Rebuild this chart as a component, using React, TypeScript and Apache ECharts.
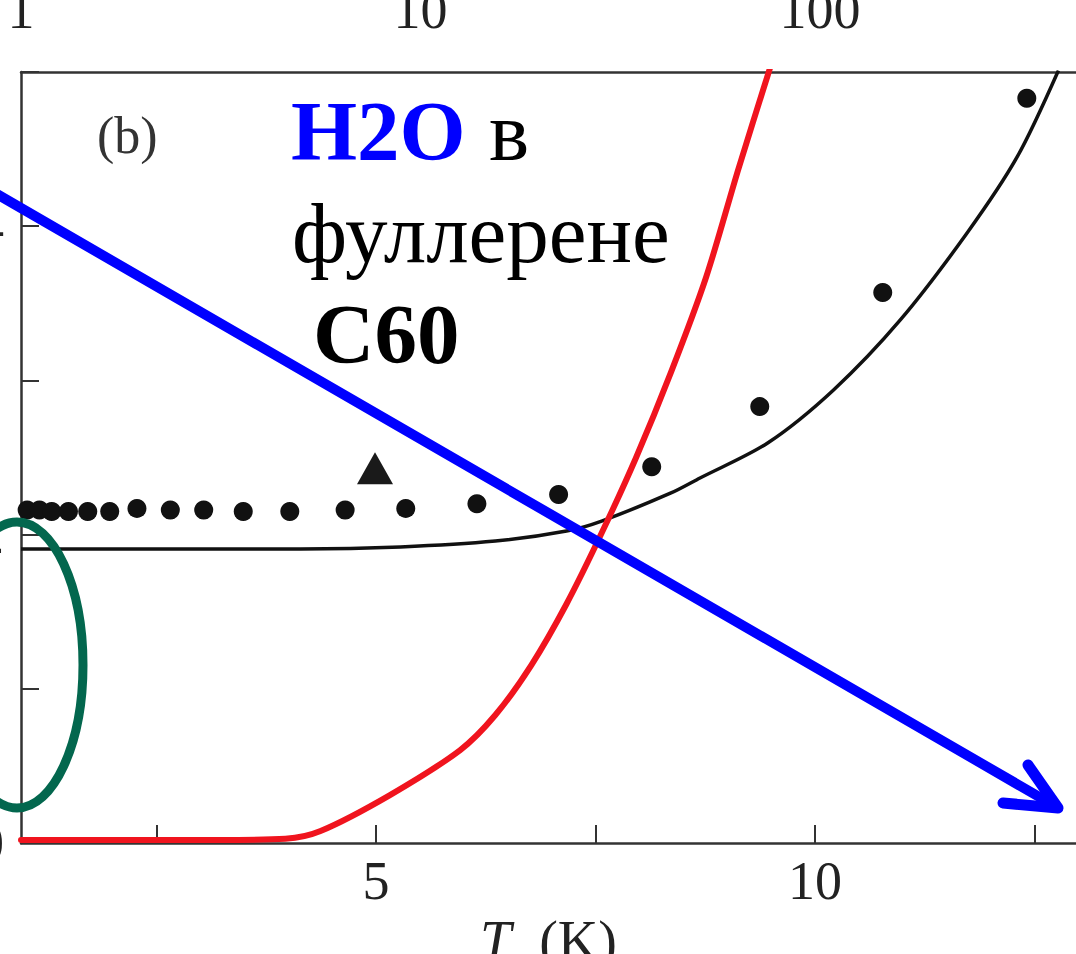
import React, { useEffect, useRef } from "react";
import * as echarts from "echarts";

// Fitted solid curves (T in K, arbitrary y units)
const blackCurveT = [0.96, 1.86, 2.9, 4.14, 5.28, 6.36, 7.17, 7.57, 8.36, 8.69, 9.46, 10.21, 10.97, 11.73, 12.3, 12.77];
const blackCurveY = [1.907, 1.907, 1.907, 1.907, 1.92, 1.958, 2.023, 2.088, 2.27, 2.367, 2.594, 2.938, 3.392, 3.956, 4.449, 5.01];

const redCurveT = [0.96, 2.43, 3.2, 3.97, 4.37, 5.16, 5.96, 6.36, 6.77, 7.17, 7.57, 7.96, 8.36, 8.76, 9.13, 9.5];
const redCurveY = [0.02, 0.02, 0.02, 0.028, 0.078, 0.311, 0.603, 0.83, 1.154, 1.55, 2.01, 2.497, 3.054, 3.671, 4.377, 5.05];

// Measured points (circles)
const dotT = [1.03, 1.17, 1.31, 1.5, 1.72, 1.97, 2.28, 2.66, 3.04, 3.49, 4.02, 4.65, 5.34, 6.15, 7.08, 8.14, 9.37, 10.77, 12.41];
const dotY = [2.16, 2.16, 2.15, 2.15, 2.15, 2.15, 2.17, 2.16, 2.16, 2.15, 2.15, 2.16, 2.17, 2.2, 2.26, 2.44, 2.83, 3.57, 4.83];

// Single triangle point
const triT = [4.99];
const triY = [2.43];

// Axis tick values
const bottomTicks = [2.5, 5, 7.5, 10, 12.5];
const bottomLabels = [5, 10];
const topLabels = [1, 10, 100];
const leftLabels = [0, 2, 4];

const SERIF = '"Liberation Serif", "Times New Roman", serif';

const pairs = (xs: number[], ys: number[]) => xs.map((x, i) => [x, ys[i]]);

export default function App() {
  const ref = useRef<HTMLDivElement>(null);

  useEffect(() => {
    if (!ref.current) return;
    const chart = echarts.init(ref.current, undefined, { renderer: "svg" });
    const axisLine = { show: true, lineStyle: { color: "#333", width: 2.5 } };
    chart.setOption({
      animation: false,
      backgroundColor: "#fff",
      grid: { left: 21, right: 0, top: 72, bottom: 111, containLabel: false, outerBoundsMode: "none" },
      xAxis: [
        {
          type: "value",
          position: "bottom",
          min: 0.96,
          max: 12.97,
          axisLine,
          axisTick: { show: true, inside: true, length: 18, customValues: bottomTicks, lineStyle: { color: "#333", width: 2 } },
          axisLabel: { customValues: bottomLabels, fontSize: 54, fontFamily: SERIF, color: "#222", margin: 11 },
          splitLine: { show: false },
          name: "{i|T}  (K)",
          nameLocation: "middle",
          nameGap: 64,
          nameTextStyle: {
            fontSize: 56,
            fontFamily: SERIF,
            color: "#222",
            rich: { i: { fontStyle: "italic", fontSize: 56, fontFamily: SERIF, color: "#222" } },
          },
        },
        {
          type: "log",
          position: "top",
          logBase: 10,
          min: 1,
          max: 437.5,
          axisLine,
          axisTick: { show: false },
          axisLabel: { customValues: topLabels, fontSize: 54, fontFamily: SERIF, color: "#222", margin: 35 },
          splitLine: { show: false },
        },
      ],
      yAxis: [
        {
          type: "value",
          min: 0,
          max: 5,
          interval: 1,
          axisLine,
          axisTick: { show: true, inside: true, length: 18, lineStyle: { color: "#333", width: 2 } },
          axisLabel: { customValues: leftLabels, fontSize: 54, fontFamily: SERIF, color: "#222", margin: 17 },
          splitLine: { show: false },
        },
      ],
      series: [
        {
          type: "line",
          xAxisIndex: 0,
          data: pairs(blackCurveT, blackCurveY),
          smooth: 0.3,
          symbol: "none",
          lineStyle: { color: "#111", width: 3.5 },
          z: 2,
        },
        {
          type: "line",
          xAxisIndex: 0,
          data: pairs(redCurveT, redCurveY),
          smooth: 0.3,
          symbol: "none",
          lineStyle: { color: "#f0141e", width: 6, cap: "round" },
          z: 3,
        },
        {
          type: "scatter",
          xAxisIndex: 0,
          data: pairs(dotT, dotY),
          symbol: "circle",
          symbolSize: 19,
          itemStyle: { color: "#111", opacity: 1 },
          z: 4,
        },
        {
          type: "scatter",
          xAxisIndex: 0,
          data: pairs(triT, triY),
          symbol: "triangle",
          symbolSize: [36, 32],
          itemStyle: { color: "#1a1a1a", opacity: 1 },
          z: 4,
        },
      ],
      graphic: [
        { type: "text", x: 97, y: 135, z: 50, style: { text: "(b)", fontSize: 52, fontFamily: SERIF, fill: "#333", verticalAlign: "middle", align: "left" } },
        { type: "text", x: 291, y: 131, z: 50, style: { text: "H2O", fontSize: 85, fontWeight: "bold", fontFamily: SERIF, fill: "#0000ff", verticalAlign: "middle", align: "left" } },
        { type: "text", x: 489, y: 131, z: 50, style: { text: "в", fontSize: 85, fontFamily: SERIF, fill: "#000", verticalAlign: "middle", align: "left" } },
        { type: "text", x: 292, y: 233, z: 50, style: { text: "фуллерене", fontSize: 85, fontFamily: SERIF, fill: "#000", verticalAlign: "middle", align: "left" } },
        { type: "text", x: 313, y: 334, z: 50, style: { text: "C60", fontSize: 85, fontWeight: "bold", fontFamily: SERIF, fill: "#000", verticalAlign: "middle", align: "left" } },
        {
          type: "ellipse",
          z: 60,
          shape: { cx: 17, cy: 665, rx: 66, ry: 143 },
          style: { fill: "none", stroke: "#03674e", lineWidth: 9 },
        },
        {
          type: "polyline",
          z: 70,
          shape: { points: [[-5, 193], [1055, 806]] },
          style: { stroke: "#0000ff", lineWidth: 10, lineCap: "round", fill: "none" },
        },
        {
          type: "polyline",
          z: 70,
          shape: { points: [[1003, 803], [1058, 808], [1028, 765]] },
          style: { stroke: "#0000ff", lineWidth: 11, lineCap: "round", lineJoin: "round", fill: "none" },
        },
      ],
    });
    return () => chart.dispose();
  }, []);

  return (
    <div
      ref={ref}
      style={{ position: "absolute", left: 0, top: 0, width: 1076, height: 954, background: "#fff" }}
    />
  );
}
